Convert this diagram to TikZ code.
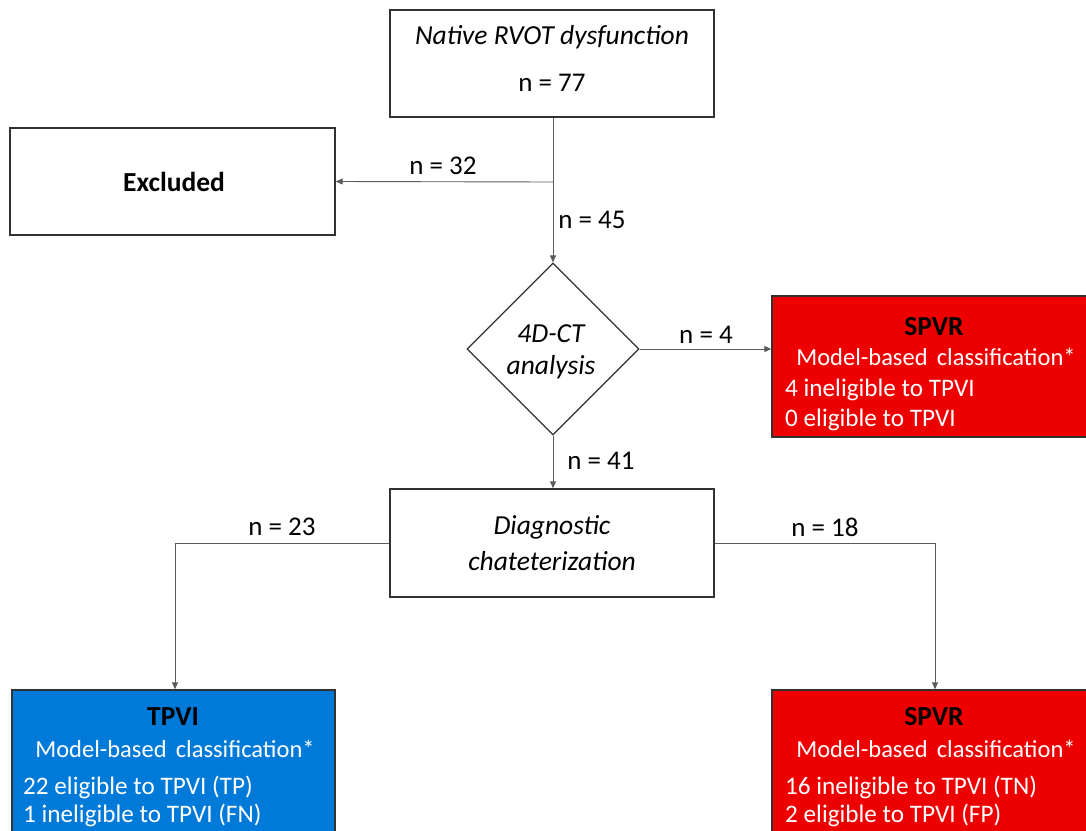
\documentclass[tikz,border=0pt]{standalone}
\usepackage{fontspec}
\setmainfont{Carlito}
\usetikzlibrary{shapes.geometric,arrows.meta}
\definecolor{boxred}{RGB}{238,0,0}
\definecolor{boxblue}{RGB}{0,122,217}
\definecolor{edge}{RGB}{50,50,50}
\begin{document}
\begin{tikzpicture}[x=1pt,y=-1pt,
  wbox/.style={draw=edge,line width=1.4pt,fill=white,minimum width=#1,inner sep=0pt},
  cbox/.style={draw=edge,line width=1.4pt,inner sep=0pt},
  txt/.style={font=\fontsize{27}{31}\selectfont,inner sep=0pt},
  itxt/.style={font=\fontsize{27.5}{32}\selectfont\itshape,inner sep=0pt},
  btxt/.style={font=\fontsize{27.5}{32}\selectfont\bfseries,inner sep=0pt},
  wtxt/.style={font=\fontsize{25.2}{29}\selectfont,text=white,inner sep=0pt},
  mtxt/.style={font=\fontsize{24.5}{29}\selectfont,text=white,inner sep=0pt},
  conn/.style={draw=edge!80,line width=0.9pt},
  arr/.style={conn,-{Triangle[length=7pt,width=6pt]}}]
\clip (0,0) rectangle (1086,830);
\fill[white] (0,0) rectangle (1086,830);
% boxes
\node[wbox=324pt,minimum height=107pt] (native) at (552,63.5) {};
\node[itxt] (nativet) at (552,37) {Native RVOT dysfunction};
\node[txt] (nativen) at (552,83) {n = 77};
\node[wbox=325pt,minimum height=107pt] (excl) at (172.5,181.5) {};
\node[btxt] (exclt) at (174,182) {Excluded};
\node[draw=edge,line width=1.2pt,fill=white,shape=diamond,minimum width=172pt,minimum height=172pt,inner sep=0pt] (dia) at (553,349) {};
\node[itxt] (diat1) at (551,334) {4D-CT};
\node[itxt] (diat2) at (551,367) {analysis};
\node[wbox=324pt,minimum height=108pt] (diag) at (552,543) {};
\node[itxt] (diagt1) at (552,527) {Diagnostic};
\node[itxt] (diagt2) at (552,561) {chateterization};
% coloured boxes
\node[cbox,fill=boxred,minimum width=318pt,minimum height=141pt] (spvr1) at (931,366.5) {};
\node[btxt] (spvr1t) at (934,327) {SPVR};
\node[mtxt] (spvr1m) at (936,357) {Model-based\hspace{0.15em} classification*};
\node[wtxt,anchor=west] (spvr1a) at (785,390) {4 ineligible to TPVI};
\node[wtxt,anchor=west] (spvr1b) at (785,420) {0 eligible to TPVI};
\node[cbox,fill=boxblue,minimum width=323pt,minimum height=160pt] (tpvi) at (173.5,770) {};
\node[btxt] (tpvit) at (173,717) {TPVI};
\node[mtxt] (tpvim) at (175,749) {Model-based\hspace{0.15em} classification*};
\node[wtxt,anchor=west] (tpvia) at (23,787) {22 eligible to TPVI (TP)};
\node[wtxt,anchor=west] (tpvib) at (23,815) {1 ineligible to TPVI (FN)};
\node[cbox,fill=boxred,minimum width=318pt,minimum height=160pt] (spvr2) at (931,770) {};
\node[btxt] (spvr2t) at (934,717) {SPVR};
\node[mtxt] (spvr2m) at (936,749) {Model-based\hspace{0.15em} classification*};
\node[wtxt,anchor=west] (spvr2a) at (785,787) {16 ineligible to TPVI (TN)};
\node[wtxt,anchor=west] (spvr2b) at (785,815) {2 eligible to TPVI (FP)};
% connectors
\coordinate (br) at (553,182);
\coordinate (lc) at (175,543);
\coordinate (rc) at (935,543);
\draw[arr] (native.south -| br) -- (dia.north);
\draw[arr] (br) -- (excl.east);
\draw[arr] (dia.east) -- (spvr1.west |- dia.east);
\draw[arr] (dia.south) -- (diag.north -| dia.south);
\draw[arr] (diag.west) -- (lc) -- (lc |- tpvi.north);
\draw[arr] (diag.east) -- (rc) -- (rc |- spvr2.north);
% labels
\node[txt] (l32) at (443,166) {n = 32};
\node[txt] (l45) at (592,220) {n = 45};
\node[txt] (l4) at (706,335) {n = 4};
\node[txt] (l41) at (601,461) {n = 41};
\node[txt] (l23) at (282,527) {n = 23};
\node[txt] (l18) at (825,527) {n = 18};
\end{tikzpicture}
\end{document}
